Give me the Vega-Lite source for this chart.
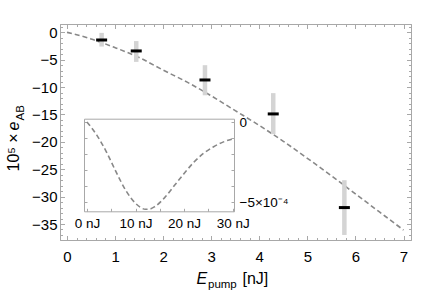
{
  "$schema": "https://vega.github.io/schema/vega-lite/v6.json",
  "width": 351,
  "height": 216,
  "autosize": {"type": "none"},
  "padding": {"left": 60, "top": 24, "right": 25, "bottom": 52},
  "background": "white",
  "config": {
    "view": {"stroke": null},
    "axis": {
      "grid": false,
      "domainColor": "#a8a8a8",
      "tickColor": "#a8a8a8",
      "labelFont": "Liberation Sans",
      "labelFontSize": 15,
      "labelColor": "#000000",
      "titleFont": "Liberation Sans",
      "titleColor": "#000000",
      "titleFontWeight": "normal",
      "labelFlush": false,
      "labelOverlap": false
    }
  },
  "datasets": {
    "curve": [
      {"x": 0, "y": 0}, {"x": 0.5, "y": -1.2}, {"x": 1.0, "y": -2.8}, {"x": 1.5, "y": -4.6},
      {"x": 2.0, "y": -6.9}, {"x": 2.5, "y": -9.1}, {"x": 3.0, "y": -11.6}, {"x": 3.5, "y": -14.3},
      {"x": 4.0, "y": -17.0}, {"x": 4.5, "y": -19.9}, {"x": 5.0, "y": -23.0}, {"x": 5.5, "y": -26.2},
      {"x": 6.0, "y": -29.5}, {"x": 6.5, "y": -32.8}, {"x": 7.0, "y": -36.1}
    ],
    "points": [
      {"x": 0.72, "y": -1.4, "lo": -2.6, "hi": -0.1},
      {"x": 1.44, "y": -3.4, "lo": -5.4, "hi": -1.6},
      {"x": 2.87, "y": -8.7, "lo": -11.5, "hi": -6.0},
      {"x": 4.29, "y": -14.9, "lo": -18.6, "hi": -11.1},
      {"x": 5.77, "y": -32.0, "lo": -37.0, "hi": -27.0}
    ],
    "inset": [
      {"e": 0, "v": 0}, {"e": 2, "v": -0.00008}, {"e": 4, "v": -0.000185}, {"e": 6, "v": -0.00031},
      {"e": 8, "v": -0.000425}, {"e": 10, "v": -0.000505}, {"e": 11, "v": -0.00053}, {"e": 12, "v": -0.000542},
      {"e": 13, "v": -0.00054}, {"e": 14, "v": -0.000525}, {"e": 16, "v": -0.00047}, {"e": 18, "v": -0.000395},
      {"e": 20, "v": -0.00032}, {"e": 22, "v": -0.00025}, {"e": 24, "v": -0.000195}, {"e": 26, "v": -0.000155},
      {"e": 28, "v": -0.000125}, {"e": 30, "v": -0.000105}
    ]
  },
  "resolve": {
    "scale": {"x": "independent", "y": "independent"},
    "axis": {"x": "independent", "y": "independent"}
  },
  "layer": [
    {
      "data": {"name": "curve"},
      "mark": {"type": "line", "color": "#888888", "strokeWidth": 1.6, "strokeDash": [5, 3], "interpolate": "monotone"},
      "encoding": {
        "x": {"field": "x", "type": "quantitative",
          "scale": {"domain": [-0.146, 7.156], "nice": false, "zero": false},
          "axis": {"orient": "bottom", "values": [0, 1, 2, 3, 4, 5, 6, 7], "tickSize": -4.5, "labelPadding": 13.5,
            "title": "E", "titleFontStyle": "italic", "titleFontSize": 16, "titleX": 136, "titleY": 43,
            "titleAlign": "left", "titleBaseline": "alphabetic", "titleAngle": 0}},
        "y": {"field": "y", "type": "quantitative",
          "scale": {"domain": [-37.92, 1.52], "nice": false, "zero": false},
          "axis": {"orient": "left", "values": [0, -5, -10, -15, -20, -25, -30, -35], "tickSize": -4.5, "labelPadding": 7.5,
            "title": "10⁵ ×", "titleFontSize": 16, "titleAngle": 270, "titleX": -42, "titleY": 147,
            "titleAlign": "left", "titleBaseline": "alphabetic"}}
      }
    },
    {
      "data": {"name": "points"},
      "mark": {"type": "rule", "color": "#d4d4d4", "strokeWidth": 4.5},
      "encoding": {
        "x": {"field": "x", "type": "quantitative", "scale": {"domain": [-0.146, 7.156], "nice": false, "zero": false}, "axis": null},
        "y": {"field": "lo", "type": "quantitative", "scale": {"domain": [-37.92, 1.52], "nice": false, "zero": false}, "axis": null},
        "y2": {"field": "hi"}
      }
    },
    {
      "data": {"name": "points"},
      "mark": {"type": "tick", "orient": "horizontal", "color": "#000000", "size": 11, "thickness": 3, "opacity": 1},
      "encoding": {
        "x": {"field": "x", "type": "quantitative", "scale": {"domain": [-0.146, 7.156], "nice": false, "zero": false}, "axis": null},
        "y": {"field": "y", "type": "quantitative", "scale": {"domain": [-37.92, 1.52], "nice": false, "zero": false}, "axis": null}
      }
    },
    {
      "data": {"name": "curve"},
      "mark": {"type": "point", "opacity": 0},
      "encoding": {
        "x": {"field": "x", "type": "quantitative",
          "scale": {"domain": [-0.146, 7.156], "nice": false, "zero": false},
          "axis": {"orient": "bottom", "values": [0.2, 0.4, 0.6, 0.8, 1.2, 1.4, 1.6, 1.8, 2.2, 2.4, 2.6, 2.8, 3.2, 3.4, 3.6, 3.8, 4.2, 4.4, 4.6, 4.8, 5.2, 5.4, 5.6, 5.8, 6.2, 6.4, 6.6, 6.8],
            "tickSize": -2.5, "labels": false,
            "title": "pump", "titleFontSize": 11.5, "titleX": 147.5, "titleY": 47,
            "titleAlign": "left", "titleBaseline": "alphabetic", "titleAngle": 0}},
        "y": {"field": "y", "type": "quantitative",
          "scale": {"domain": [-37.92, 1.52], "nice": false, "zero": false},
          "axis": {"orient": "left", "values": [1, -1, -2, -3, -4, -6, -7, -8, -9, -11, -12, -13, -14, -16, -17, -18, -19, -21, -22, -23, -24, -26, -27, -28, -29, -31, -32, -33, -34, -36, -37],
            "tickSize": -2.5, "labels": false,
            "title": "e", "titleFontStyle": "italic", "titleFontSize": 16, "titleAngle": 270, "titleX": -42, "titleY": 106,
            "titleAlign": "left", "titleBaseline": "alphabetic"}}
      }
    },
    {
      "data": {"name": "curve"},
      "mark": {"type": "point", "opacity": 0},
      "encoding": {
        "x": {"field": "x", "type": "quantitative",
          "scale": {"domain": [-0.146, 7.156], "nice": false, "zero": false},
          "axis": {"orient": "top", "values": [0, 1, 2, 3, 4, 5, 6, 7], "tickSize": -4.5, "labels": false,
            "title": "[nJ]", "titleFontSize": 16, "titleX": 182, "titleY": 259,
            "titleAlign": "left", "titleBaseline": "alphabetic", "titleAngle": 0}},
        "y": {"field": "y", "type": "quantitative",
          "scale": {"domain": [-37.92, 1.52], "nice": false, "zero": false},
          "axis": {"orient": "right", "values": [0, -5, -10, -15, -20, -25, -30, -35], "tickSize": -4.5, "labels": false,
            "title": "AB", "titleFontSize": 11.5, "titleAngle": 270, "titleX": -388, "titleY": 96,
            "titleAlign": "left", "titleBaseline": "alphabetic"}}
      }
    },
    {
      "data": {"name": "curve"},
      "mark": {"type": "point", "opacity": 0},
      "encoding": {
        "x": {"field": "x", "type": "quantitative",
          "scale": {"domain": [-0.146, 7.156], "nice": false, "zero": false},
          "axis": {"orient": "top", "values": [0.2, 0.4, 0.6, 0.8, 1.2, 1.4, 1.6, 1.8, 2.2, 2.4, 2.6, 2.8, 3.2, 3.4, 3.6, 3.8, 4.2, 4.4, 4.6, 4.8, 5.2, 5.4, 5.6, 5.8, 6.2, 6.4, 6.6, 6.8],
            "tickSize": -2.5, "labels": false, "title": null}},
        "y": {"field": "y", "type": "quantitative",
          "scale": {"domain": [-37.92, 1.52], "nice": false, "zero": false},
          "axis": {"orient": "right", "values": [1, -1, -2, -3, -4, -6, -7, -8, -9, -11, -12, -13, -14, -16, -17, -18, -19, -21, -22, -23, -24, -26, -27, -28, -29, -31, -32, -33, -34, -36, -37],
            "tickSize": -2.5, "labels": false, "title": null}}
      }
    },
    {
      "data": {"name": "inset"},
      "mark": {"type": "line", "color": "#888888", "strokeWidth": 1.6, "strokeDash": [5, 3], "interpolate": "monotone"},
      "encoding": {
        "x": {"field": "e", "type": "quantitative",
          "scale": {"domain": [-0.6, 30.27], "range": [24, 174], "nice": false, "zero": false},
          "axis": {"orient": "bottom", "offset": -28.7, "values": [0, 5, 10, 15, 20, 25, 30], "tickSize": -3, "labelPadding": 8.5,
            "labelFontSize": 13.5, "labelExpr": "datum.value % 10 == 0 ? datum.value + ' nJ' : ''", "title": null}},
        "y": {"field": "v", "type": "quantitative",
          "scale": {"domain": [-0.0005547, 0.0000205], "range": [187.3, 94.7], "nice": false, "zero": false},
          "axis": {"orient": "right", "offset": -177, "values": [0, -0.0001, -0.0002, -0.0003, -0.0004, -0.0005], "tickSize": -3, "labelPadding": 8,
            "labelFontSize": 13.5, "labelExpr": "datum.value == 0 ? '0' : (datum.value < -0.00045 ? '−5×10⁻⁴' : '')", "title": null}}
      }
    },
    {
      "data": {"name": "inset"},
      "mark": {"type": "point", "opacity": 0},
      "encoding": {
        "x": {"field": "e", "type": "quantitative",
          "scale": {"domain": [-0.6, 30.27], "range": [24, 174], "nice": false, "zero": false},
          "axis": {"orient": "top", "offset": -94.7, "ticks": false, "labels": false, "title": null}},
        "y": {"field": "v", "type": "quantitative",
          "scale": {"domain": [-0.0005547, 0.0000205], "range": [187.3, 94.7], "nice": false, "zero": false},
          "axis": {"orient": "left", "offset": -24, "values": [0, -0.0001, -0.0002, -0.0003, -0.0004, -0.0005], "tickSize": -3, "labels": false, "title": null}}
      }
    }
  ]
}
